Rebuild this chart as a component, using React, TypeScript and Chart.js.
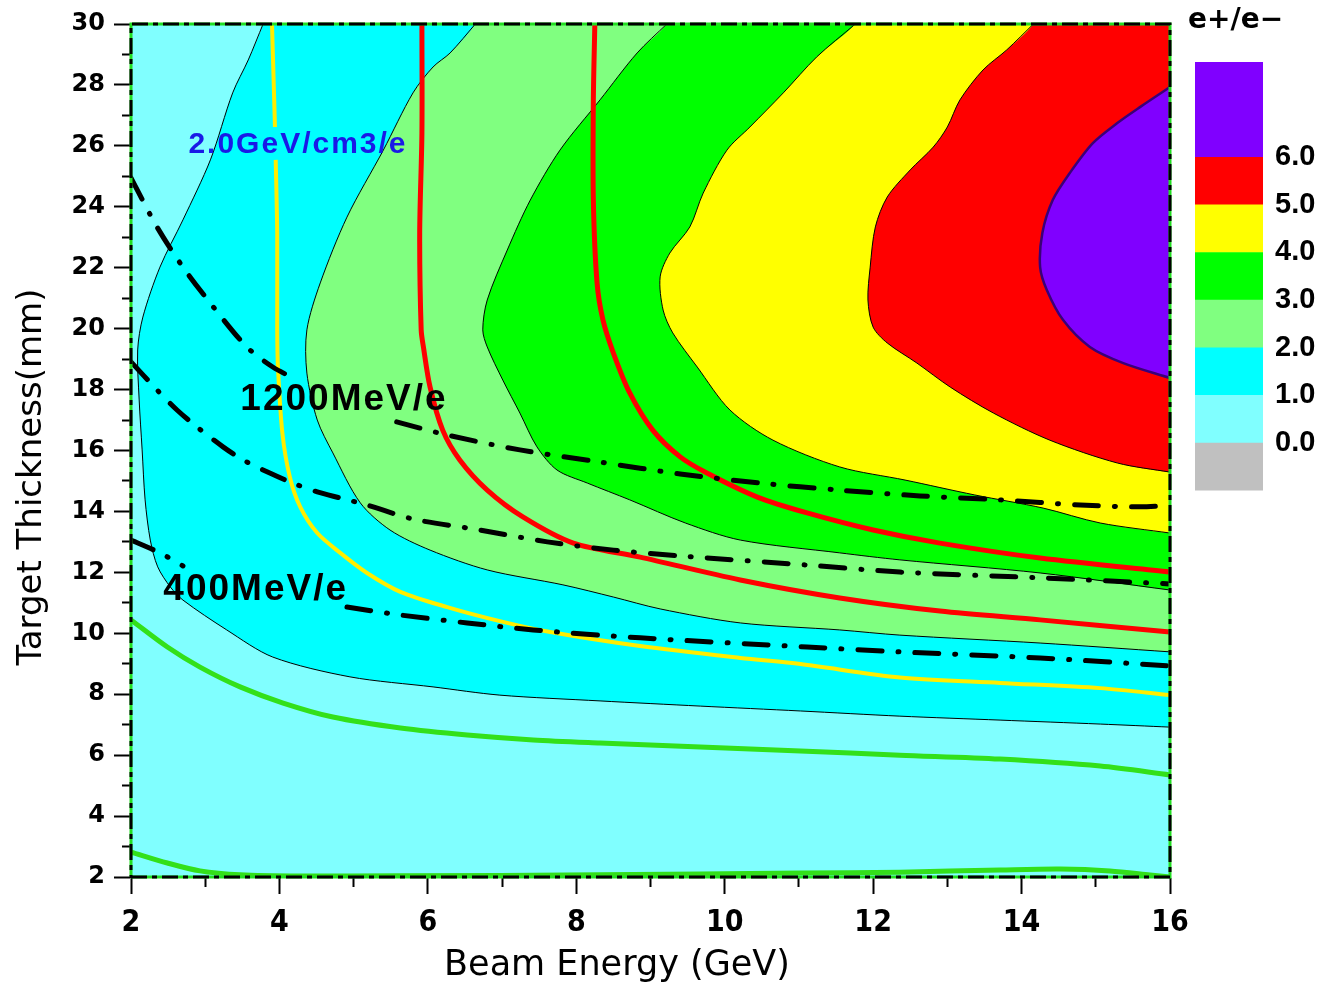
import React, { useEffect, useRef } from 'react';
import { Chart, registerables } from 'chart.js';

Chart.register(...registerables);

type P = [number, number];

// ---------- axis ticks ----------
const xTickValues = [2, 3, 4, 5, 6, 7, 8, 9, 10, 11, 12, 13, 14, 15, 16];
const yTickValues = [2, 3, 4, 5, 6, 7, 8, 9, 10, 11, 12, 13, 14, 15, 16, 17, 18, 19, 20, 21, 22, 23, 24, 25, 26, 27, 28, 29, 30];

// ---------- colour bar ----------
const colorbarLabels = ['0.0', '1.0', '2.0', '3.0', '4.0', '5.0', '6.0'];
const colorbarTickValues = [1, 2, 3, 4, 5, 6, 7];
const colorbarColors = ['#c0c0c0', '#80ffff', '#00ffff', '#80ff80', '#00ff00', '#ffff00', '#ff0000', '#8000ff'];
const colorbarSpans = [1, 1, 1, 1, 1, 1, 1, 2];

// ---------- filled bands (e+/e- levels) ----------
const bandColors = ['#80ffff', '#00ffff', '#80ff80', '#00ff00', '#ffff00', '#ff0000', '#8000ff'];

// contour of level 1.0
const contour1: P[] = [[3.78, 30], [3.58, 28.82], [3.37, 27.74], [3.07, 25.54], [2.70, 23.57], [2.39, 22.02], [2.16, 20.38], [2.09, 19.30], [2.11, 17.66], [2.15, 16.02], [2.19, 14.38], [2.26, 13.06], [2.36, 12.18], [2.53, 11.52], [2.70, 11.09], [3.29, 10.11], [3.91, 9.22], [4.95, 8.57], [6.07, 8.24], [6.97, 7.97], [8.32, 7.78], [9.67, 7.61], [11.02, 7.45], [12.36, 7.28], [13.71, 7.15], [15.06, 7.02], [16, 6.92]];
// contour of level 2.0
const contour2: P[] = [[6.64, 30], [6.30, 29.05], [6.07, 28.59], [5.80, 27.74], [5.40, 25.86], [4.91, 23.66], [4.55, 21.50], [4.37, 19.96], [4.37, 18.54], [4.51, 17.00], [4.72, 15.92], [5.09, 14.28], [5.49, 13.39], [6.03, 12.73], [6.80, 12.08], [7.82, 11.59], [8.50, 11.19], [9.13, 10.80], [10.21, 10.34], [11.55, 10.11], [12.36, 9.94], [14.25, 9.68], [16, 9.39]];
// contour of level 3.0
const contour3: P[] = [[9.22, 30], [8.82, 29.05], [8.32, 27.51], [7.78, 25.86], [7.38, 24.22], [7.07, 22.58], [6.80, 20.94], [6.74, 19.96], [6.80, 19.40], [7.01, 18.31], [7.24, 17.23], [7.47, 16.12], [7.74, 15.36], [8.15, 14.93], [8.72, 14.38], [9.47, 13.62], [10.21, 13.06], [11.55, 12.64], [12.36, 12.41], [14.25, 11.98], [16, 11.42]];
// contour of level 4.0
const contour4: P[] = [[11.76, 30], [11.24, 28.92], [10.79, 27.74], [10.34, 26.62], [10.03, 25.86], [9.71, 24.45], [9.53, 23.34], [9.26, 22.48], [9.13, 21.70], [9.17, 20.61], [9.30, 19.86], [9.63, 18.74], [10.07, 17.33], [10.65, 16.34], [11.55, 15.46], [12.43, 15.03], [13.37, 14.54], [14.29, 14.11], [15.06, 13.62], [16, 13.29]];
// contour of level 5.0
const contour5: P[] = [[14.16, 30], [13.80, 29.15], [13.48, 28.49], [13.17, 27.51], [13.00, 26.62], [12.81, 25.96], [12.50, 25.21], [12.19, 24.32], [12.03, 23.34], [11.96, 22.02], [11.93, 20.94], [12.00, 20.05], [12.19, 19.53], [12.59, 18.87], [13.04, 18.08], [13.62, 17.23], [14.38, 16.34], [15.29, 15.59], [16, 15.29]];
// contour of level 6.0
const contour6: P[] = [[16, 27.93], [15.60, 27.28], [15.29, 26.75], [14.96, 26.09], [14.65, 25.11], [14.42, 24.22], [14.28, 23.14], [14.25, 22.02], [14.34, 21.27], [14.56, 20.28], [14.92, 19.40], [15.37, 18.87], [16, 18.38]];

// ---------- overlay lines ----------
const greenLine1: P[] = [[2, 10.44], [2.49, 9.55], [2.93, 8.89], [3.47, 8.24], [4.05, 7.71], [4.72, 7.25], [5.63, 6.89], [6.53, 6.66], [7.42, 6.50], [8.32, 6.40], [9.67, 6.27], [11.02, 6.14], [12.36, 6.00], [13.71, 5.87], [15.06, 5.64], [16, 5.35]];
const greenLine2: P[] = [[2, 2.82], [2.49, 2.46], [2.93, 2.20], [3.47, 2.07], [4.28, 2.03], [5.63, 2.04], [8.32, 2.07], [11.02, 2.13], [12.36, 2.16], [13.71, 2.23], [14.52, 2.26], [15.19, 2.20], [15.73, 2.07], [16, 2.0]];
const yellowLineTop: P[] = [[3.90, 30], [3.92, 28.3], [3.94, 26.62]];
const yellowLineBottom: P[] = [[3.95, 25.54], [3.97, 23.14], [3.97, 19.96], [3.98, 18.74], [4.04, 16.57], [4.14, 15.13], [4.28, 14.15], [4.51, 13.29], [4.82, 12.64], [5.18, 11.98], [5.63, 11.36], [6.26, 10.86], [6.97, 10.40], [7.65, 10.04], [8.86, 9.58], [10.21, 9.19], [11.02, 8.99], [12.36, 8.55], [13.71, 8.37], [15.06, 8.20], [16, 7.97]];
const redLine1: P[] = [[5.92, 30], [5.92, 26.42], [5.89, 23.14], [5.91, 19.96], [5.94, 19.40], [6.03, 18.08], [6.20, 16.67], [6.43, 15.69], [6.80, 14.70], [7.28, 13.82], [7.96, 12.96], [8.86, 12.50], [10.21, 11.75], [11.55, 11.16], [12.90, 10.73], [14.25, 10.44], [16, 10.04]];
const redLine2: P[] = [[8.25, 30], [8.23, 27.51], [8.23, 24.22], [8.28, 21.50], [8.36, 20.28], [8.50, 19.20], [8.72, 17.89], [9.03, 16.67], [9.40, 15.79], [9.76, 15.26], [10.44, 14.47], [11.11, 13.95], [12.00, 13.39], [12.90, 12.96], [14.25, 12.47], [16, 12.01]];
const dash1Left: P[] = [[2, 24.95], [2.35, 23.34], [2.70, 22.02], [3.11, 20.71], [3.56, 19.40], [3.91, 18.74], [4.24, 18.31]];
const dash1Right: P[] = [[5.58, 16.94], [6.26, 16.51], [7.24, 16.02], [8.32, 15.62], [9.40, 15.23], [10.48, 14.93], [11.55, 14.70], [12.63, 14.51], [13.71, 14.38], [14.79, 14.21], [15.60, 14.15], [16, 14.21]];
const dash2: P[] = [[2, 18.91], [2.35, 17.99], [2.62, 17.33], [2.89, 16.77], [3.24, 16.12], [3.51, 15.69], [3.87, 15.26], [4.18, 14.93], [4.51, 14.64], [4.82, 14.44], [5.18, 14.21], [5.80, 13.75], [6.70, 13.39], [7.61, 13.00], [8.50, 12.73], [9.40, 12.54], [11.11, 12.24], [12.36, 12.01], [14.25, 11.82], [16, 11.62]];
const dash3Left: P[] = [[2, 13.06], [2.39, 12.64], [2.70, 12.21]];
const dash3Right: P[] = [[4.91, 10.86], [5.63, 10.60], [6.53, 10.34], [7.42, 10.11], [8.86, 9.85], [11.11, 9.55], [12.36, 9.39], [14.25, 9.19], [16, 8.93]];

// ---------- in-plot labels ----------
const labelTexts = ['2.0GeV/cm3/e', '1200MeV/e', '400MeV/e'];
const labelX = [4.25, 4.87, 3.68];
const labelY = [26.03, 17.66, 11.42];
const labelColors = ['#1a1ae6', '#000000', '#000000'];

const X_MIN = 2, X_MAX = 16, Y_MIN = 2, Y_MAX = 30;
const EXT = 0.4;
const TENSION = 0.3;

const pts = (a: P[]) => a.map(([x, y]) => ({ x, y }));

const levelPolygon = (c: P[]): P[] => {
  const first = c[0];
  const last = c[c.length - 1];
  return [[first[0], Y_MAX + EXT], ...c, [X_MAX + EXT, last[1]], [X_MAX + EXT, Y_MAX + EXT]];
};
const rightPolygon = (c: P[]): P[] => {
  const first = c[0];
  const last = c[c.length - 1];
  return [...c, [X_MAX + EXT, last[1]], [X_MAX + EXT, first[1]]];
};
const basePolygon: P[] = [[X_MIN - EXT, Y_MIN - EXT], [X_MAX + EXT, Y_MIN - EXT], [X_MAX + EXT, Y_MAX + EXT], [X_MIN - EXT, Y_MAX + EXT]];
const frameRect: P[] = [[X_MIN, Y_MIN], [X_MAX, Y_MIN], [X_MAX, Y_MAX], [X_MIN, Y_MAX], [X_MIN, Y_MIN]];

const fillDs = (poly: P[], color: string, tension = TENSION) => ({
  data: pts(poly),
  showLine: true,
  fill: 'shape',
  backgroundColor: color,
  borderWidth: 0,
  pointRadius: 0,
  pointHoverRadius: 0,
  tension,
  clip: 0,
});

const lineDs = (a: P[], color: string, width: number, extra: any = {}) => ({
  data: pts(a),
  showLine: true,
  fill: false,
  borderColor: color,
  backgroundColor: color,
  borderWidth: width,
  pointRadius: 0,
  pointHoverRadius: 0,
  tension: TENSION,
  ...extra,
});

const dashStyle = { borderDash: [24, 16, 1, 16], borderCapStyle: 'round' };

const textPlugin = {
  id: 'plotTexts',
  afterDatasetsDraw(chart: any) {
    const { ctx } = chart;
    const xs = chart.scales.x;
    const ys = chart.scales.y;
    ctx.save();
    ctx.textAlign = 'center';
    ctx.textBaseline = 'middle';
    labelTexts.forEach((t, i) => {
      const big = i > 0;
      ctx.font = big ? "bold 37px 'Liberation Sans', Arial, sans-serif" : "bold 30px 'Liberation Sans', Arial, sans-serif";
      (ctx as any).letterSpacing = '2px';
      ctx.fillStyle = labelColors[i];
      ctx.fillText(t, xs.getPixelForValue(labelX[i]), ys.getPixelForValue(labelY[i]));
    });
    (ctx as any).letterSpacing = '0px';
    ctx.restore();
  },
  afterDraw(chart: any) {
    const { ctx } = chart;
    ctx.save();
    ctx.fillStyle = '#000';
    ctx.textAlign = 'center';
    ctx.textBaseline = 'alphabetic';
    ctx.font = "35px 'DejaVu Sans', sans-serif";
    ctx.fillText('Beam Energy (GeV)', 617, 975);
    ctx.translate(41, 477);
    ctx.rotate(-Math.PI / 2);
    ctx.font = "34px 'DejaVu Sans', sans-serif";
    ctx.fillText('Target Thickness(mm)', 0, 0);
    ctx.restore();
  },
};

const colorbarTitlePlugin = {
  id: 'cbTitle',
  afterDraw(chart: any) {
    const { ctx } = chart;
    ctx.save();
    ctx.fillStyle = '#000';
    ctx.textAlign = 'left';
    ctx.textBaseline = 'middle';
    ctx.font = "bold 28px 'DejaVu Sans', sans-serif";
    ctx.fillText('e+/e\u2212', 8, 21);
    ctx.restore();
  },
};

function buildMainConfig(): any {
  const layers: any[] = [];
  layers.push(fillDs(basePolygon, bandColors[0], 0));
  const levelContours = [contour1, contour2, contour3, contour4, contour5];
  levelContours.forEach((c, i) => layers.push(fillDs(levelPolygon(c), bandColors[i + 1])));
  layers.push(fillDs(rightPolygon(contour6), bandColors[6]));
  levelContours.forEach((c) => layers.push(lineDs(c, '#000000', 1)));
  layers.push(lineDs(contour6, '#3a0078', 2.5));
  layers.push(lineDs(greenLine1, '#33e01a', 5));
  layers.push(lineDs(greenLine2, '#33e01a', 5));
  layers.push(lineDs(yellowLineTop, '#ffee00', 4));
  layers.push(lineDs(yellowLineBottom, '#ffee00', 4));
  layers.push(lineDs(redLine1, '#ff0000', 5));
  layers.push(lineDs(redLine2, '#ff0000', 5));
  layers.push(lineDs(dash1Left, '#000000', 5, dashStyle));
  layers.push(lineDs(dash1Right, '#000000', 5, dashStyle));
  layers.push(lineDs(dash2, '#000000', 5, dashStyle));
  layers.push(lineDs(dash3Left, '#000000', 5, dashStyle));
  layers.push(lineDs(dash3Right, '#000000', 5, dashStyle));
  layers.push(lineDs(frameRect, '#22dd22', 3, { tension: 0, clip: false }));
  layers.push(lineDs(frameRect, '#000000', 3, { tension: 0, clip: false, borderDash: [16, 5, 5, 5] }));
  const n = layers.length;
  layers.forEach((d, i) => (d.order = n - i));

  const xTickFont = { family: "'Liberation Sans Narrow', 'DejaVu Sans Condensed', sans-serif", size: 30, weight: 'bold' };
  const yTickFont = { family: "'DejaVu Sans', sans-serif", size: 24, weight: 'bold' };

  return {
    type: 'scatter',
    data: { datasets: layers },
    options: {
      animation: false,
      responsive: false,
      events: [],
      layout: { padding: { left: 0, right: 154, top: 24, bottom: 0 } },
      plugins: { legend: { display: false }, tooltip: { enabled: false }, title: { display: false } },
      scales: {
        x: {
          type: 'linear',
          min: X_MIN,
          max: X_MAX,
          afterFit: (s: any) => { s.height = 108; },
          afterBuildTicks: (s: any) => { s.ticks = xTickValues.map((v) => ({ value: v })); },
          ticks: {
            autoSkip: false,
            maxRotation: 0,
            padding: 11,
            color: '#000',
            font: xTickFont,
            callback: (v: any) => (Number(v) % 2 === 0 ? String(v) : ''),
          },
          grid: {
            drawOnChartArea: false,
            drawTicks: true,
            tickLength: 17,
            tickWidth: 2,
            tickColor: '#000',
            tickBorderDash: (ctx: any) => (ctx.tick && ctx.tick.value % 2 !== 0 ? [9, 40] : []),
          },
          border: { display: true, color: '#000', width: 2 },
        },
        y: {
          type: 'linear',
          min: Y_MIN,
          max: Y_MAX,
          afterFit: (s: any) => { s.width = 131; },
          afterBuildTicks: (s: any) => { s.ticks = yTickValues.map((v) => ({ value: v })); },
          ticks: {
            autoSkip: false,
            padding: 9,
            color: '#000',
            font: yTickFont,
            callback: (v: any) => (Number(v) % 2 === 0 ? String(v) : ''),
          },
          grid: {
            drawOnChartArea: false,
            drawTicks: true,
            tickLength: 17,
            tickWidth: 2,
            tickColor: '#000',
            tickBorderDash: (ctx: any) => (ctx.tick && ctx.tick.value % 2 !== 0 ? [0, 8, 9, 40] : []),
          },
          border: { display: true, color: '#000', width: 2 },
        },
      },
    },
    plugins: [textPlugin],
  };
}

function buildColorbarConfig(): any {
  return {
    type: 'bar',
    data: {
      labels: [''],
      datasets: colorbarColors.map((c, i) => ({
        data: [colorbarSpans[i]],
        backgroundColor: c,
        borderWidth: 0,
        barPercentage: 1,
        categoryPercentage: 1,
        stack: 'cb',
      })),
    },
    options: {
      animation: false,
      responsive: false,
      events: [],
      layout: { padding: { left: 15, top: 62, bottom: 29, right: 0 } },
      plugins: { legend: { display: false }, tooltip: { enabled: false } },
      scales: {
        x: { display: false, stacked: true },
        y: {
          stacked: true,
          min: 0,
          max: 9,
          position: 'right',
          afterFit: (s: any) => { s.width = 61; },
          afterBuildTicks: (s: any) => { s.ticks = colorbarTickValues.map((v) => ({ value: v })); },
          ticks: {
            autoSkip: false,
            padding: 12,
            color: '#000',
            font: { family: "'Liberation Sans', Arial, sans-serif", size: 29, weight: 'bold' },
            callback: (v: any) => colorbarLabels[Number(v) - 1] ?? '',
          },
          grid: { display: false, drawTicks: false },
          border: { display: false },
        },
      },
    },
    plugins: [colorbarTitlePlugin],
  };
}

export default function App() {
  const mainRef = useRef<HTMLCanvasElement>(null);
  const barRef = useRef<HTMLCanvasElement>(null);
  useEffect(() => {
    const main = new Chart(mainRef.current as HTMLCanvasElement, buildMainConfig());
    const bar = new Chart(barRef.current as HTMLCanvasElement, buildColorbarConfig());
    return () => {
      main.destroy();
      bar.destroy();
    };
  }, []);
  return (
    <div style={{ position: 'absolute', left: 0, top: 0, width: 1324, height: 985, background: '#fff' }}>
      <canvas ref={mainRef} width={1324} height={985} style={{ position: 'absolute', left: 0, top: 0 }} />
      <canvas ref={barRef} width={144} height={520} style={{ position: 'absolute', left: 1180, top: 0 }} />
    </div>
  );
}
